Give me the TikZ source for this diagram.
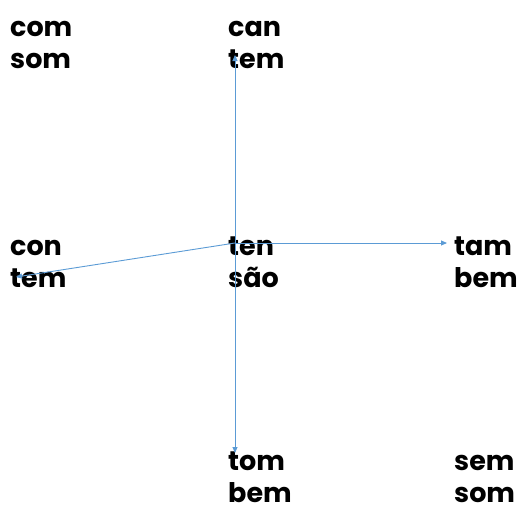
\documentclass[tikz,border=0pt]{standalone}
\usepackage{fontspec}
\setmainfont{Poppins}[BoldFont={* Bold}]
\usetikzlibrary{arrows.meta}
\definecolor{lineblue}{HTML}{5B9BD5}
\begin{document}
\begin{tikzpicture}[x=1pt,y=-1pt,
  word/.style={anchor=base west,inner sep=0pt,font=\fontsize{27}{32}\selectfont\bfseries,align=left},
  link/.style={draw=lineblue,line width=0.9pt,-{Triangle[length=6pt,width=5pt]}}]
\useasboundingbox (0,0) rectangle (520,514);
\node[word] (tl) at (10,68) {com\\som};
\node[word] (tc) at (228,68) {can\\tem};
\node[word] (ml) at (10,287) {con\\tem};
\node[word] (mc) at (228,287) {ten\\são};
\node[word] (mr) at (454,287) {tam\\bem};
\node[word] (bc) at (228,502) {tom\\bem};
\node[word] (br) at (454,502) {sem\\som};
\coordinate (hub) at (235,243);
\coordinate (up) at (235,55);
\coordinate (right) at (447,243);
\coordinate (down) at (235,453);
\coordinate (left) at (16,277);
\draw[link] (hub) -- (up);
\draw[link] (hub) -- (right);
\draw[link] (hub) -- (down);
\draw[link] (hub) -- (left);
\end{tikzpicture}
\end{document}
